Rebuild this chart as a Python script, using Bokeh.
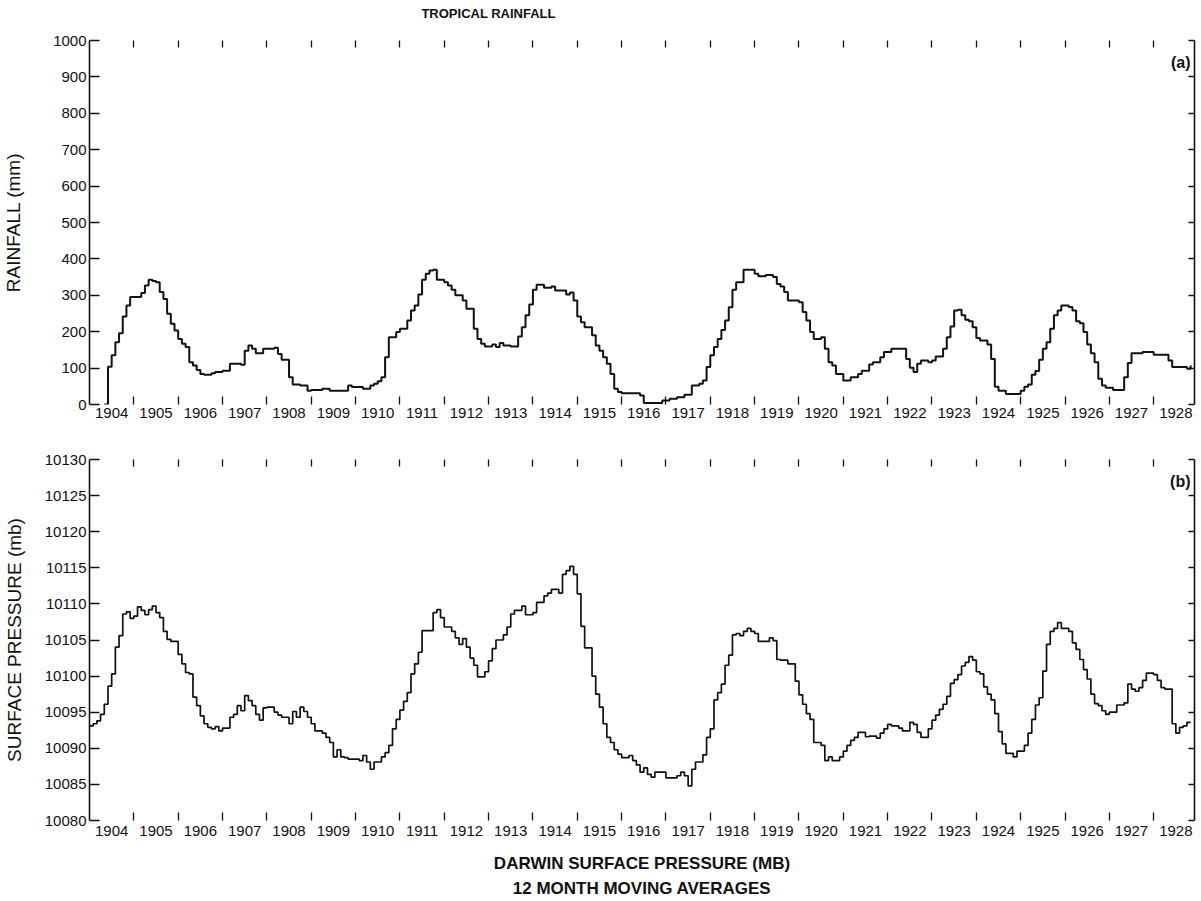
from bokeh.plotting import figure
from bokeh.layouts import column
from bokeh.models import FixedTicker, LinearAxis, Range1d, Label, CustomJSTickFormatter
from bokeh.embed import file_html
from bokeh.resources import INLINE

FIRST_YEAR = 1904
LAST_YEAR = 1928

# Monthly rainfall (mm), 12-month moving average, first value = May 1904 (month index 4)
rain_start_month = 4
rainfall_mm = [
    0, 104, 135, 171, 196, 242, 272, 295,                      # 1904
    295, 295, 306, 327, 343, 339, 336, 309, 290, 249, 222, 203,  # 1905
    180, 167, 158, 116, 107, 95, 84, 82, 82, 86, 89, 89,         # 1906
    93, 93, 112, 112, 112, 109, 148, 162, 153, 141, 141, 153,    # 1907
    153, 153, 156, 139, 123, 123, 75, 55, 55, 52, 52, 38,        # 1908
    40, 40, 40, 43, 43, 38, 38, 38, 38, 38, 52, 48,              # 1909
    48, 48, 43, 43, 52, 57, 64, 75, 130, 185, 185, 199,          # 1910
    208, 208, 231, 258, 272, 302, 343, 359, 368, 370, 343, 343,  # 1911
    336, 327, 315, 300, 300, 286, 263, 263, 208, 180, 167, 159,  # 1912
    159, 165, 158, 169, 162, 162, 159, 159, 187, 212, 245, 275,  # 1913
    315, 329, 329, 321, 321, 324, 313, 313, 313, 302, 308, 286,  # 1914
    242, 226, 212, 212, 190, 162, 148, 130, 112, 84, 43, 34,     # 1915
    31, 31, 31, 31, 31, 25, 4, 4, 4, 4, 4, 11,                   # 1916
    11, 16, 16, 20, 20, 27, 27, 52, 52, 57, 66, 103,             # 1917
    135, 158, 180, 205, 231, 267, 315, 336, 336, 370, 370, 370,  # 1918
    359, 352, 352, 356, 356, 350, 331, 324, 309, 286, 286, 286,  # 1919
    281, 254, 231, 199, 180, 180, 185, 153, 116, 107, 84, 84,    # 1920
    66, 66, 75, 75, 84, 93, 93, 110, 116, 116, 130, 144,         # 1921
    144, 153, 153, 153, 153, 125, 101, 89, 112, 121, 121, 116,   # 1922
    121, 132, 132, 153, 185, 214, 258, 260, 245, 233, 229, 212,  # 1923
    183, 176, 176, 165, 125, 49, 38, 38, 29, 29, 29, 29,         # 1924
    38, 49, 55, 82, 92, 123, 153, 171, 208, 245, 258, 272,       # 1925
    272, 268, 258, 229, 223, 199, 165, 141, 116, 71, 52, 46,     # 1926
    46, 40, 40, 40, 75, 114, 141, 141, 141, 144, 144, 144,       # 1927
    137, 137, 137, 137, 121, 103, 103, 103, 103, 98, 107,        # 1928
]

# Monthly Darwin surface pressure (as labelled on the axis), first value = Jan 1904
pressure_start_month = 0
pressure_mb = [
    10093.1, 10093.4, 10093.8, 10094.7, 10096.1, 10098.6, 10100.3, 10104.0, 10105.6, 10108.6, 10108.9, 10108.0,  # 1904
    10108.3, 10109.6, 10109.1, 10108.5, 10109.2, 10109.7, 10108.8, 10108.1, 10106.2, 10105.1, 10104.8, 10104.8,  # 1905
    10103.0, 10101.7, 10100.5, 10100.3, 10097.1, 10095.9, 10094.5, 10093.4, 10092.9, 10092.7, 10093.0, 10092.4,  # 1906
    10092.8, 10092.8, 10094.3, 10094.7, 10095.9, 10095.2, 10097.3, 10096.6, 10095.9, 10094.7, 10093.9, 10095.6,  # 1907
    10095.7, 10095.7, 10095.0, 10094.6, 10094.3, 10094.3, 10093.4, 10095.1, 10094.3, 10095.7, 10095.1, 10094.3,  # 1908
    10093.4, 10092.4, 10092.4, 10092.1, 10091.5, 10090.8, 10088.8, 10089.8, 10088.8, 10088.7, 10088.5, 10088.5,  # 1909
    10088.5, 10088.3, 10089.0, 10088.1, 10087.1, 10088.1, 10088.1, 10088.8, 10089.4, 10090.4, 10092.7, 10094.0,  # 1910
    10095.3, 10096.5, 10097.7, 10100.3, 10101.7, 10103.3, 10106.3, 10106.3, 10106.3, 10108.8, 10109.2, 10108.1,  # 1911
    10106.8, 10106.8, 10106.2, 10105.3, 10104.4, 10105.2, 10104.0, 10102.5, 10101.5, 10099.9, 10099.9, 10100.6,  # 1912
    10102.1, 10103.8, 10105.0, 10105.0, 10105.7, 10106.8, 10108.6, 10109.1, 10109.1, 10109.7, 10108.5, 10108.5,  # 1913
    10108.8, 10110.2, 10110.2, 10111.1, 10111.5, 10112.0, 10112.0, 10111.5, 10114.1, 10114.6, 10115.2, 10114.1,  # 1914
    10111.4, 10106.9, 10103.9, 10103.9, 10100.0, 10097.5, 10095.7, 10093.4, 10091.5, 10090.8, 10089.8, 10089.2,  # 1915
    10088.7, 10088.7, 10089.0, 10088.3, 10087.7, 10086.7, 10087.3, 10086.4, 10086.0, 10086.7, 10086.7, 10086.7,  # 1916
    10085.9, 10085.9, 10085.9, 10086.2, 10086.7, 10086.2, 10084.8, 10087.1, 10088.1, 10088.1, 10089.1, 10091.5,  # 1917
    10092.7, 10096.7, 10097.7, 10098.9, 10101.5, 10102.9, 10105.7, 10105.9, 10105.6, 10106.2, 10106.6, 10106.2,  # 1918
    10105.9, 10104.8, 10104.8, 10104.8, 10105.3, 10104.9, 10102.3, 10102.2, 10102.2, 10101.7, 10101.7, 10099.3,  # 1919
    10097.4, 10096.1, 10094.8, 10094.0, 10090.8, 10090.8, 10090.4, 10088.3, 10088.8, 10088.3, 10088.3, 10088.8,  # 1920
    10089.6, 10090.4, 10091.1, 10091.5, 10092.2, 10092.2, 10091.6, 10091.7, 10091.7, 10091.4, 10092.1, 10092.7,  # 1921
    10093.3, 10093.1, 10093.1, 10092.8, 10092.4, 10092.4, 10093.6, 10093.3, 10092.2, 10091.5, 10091.5, 10092.7,  # 1922
    10093.9, 10094.6, 10095.4, 10096.1, 10097.2, 10099.0, 10099.5, 10100.2, 10101.4, 10101.9, 10102.7, 10102.2,  # 1923
    10100.6, 10100.3, 10098.5, 10097.5, 10096.7, 10094.8, 10092.3, 10090.6, 10089.3, 10089.3, 10088.8, 10089.6,  # 1924
    10089.6, 10090.4, 10092.1, 10094.0, 10096.0, 10097.0, 10100.7, 10104.4, 10106.2, 10106.6, 10107.4, 10106.6,  # 1925
    10106.6, 10106.2, 10104.6, 10103.7, 10102.3, 10100.9, 10099.6, 10097.5, 10096.2, 10095.9, 10095.2, 10094.7,  # 1926
    10095.0, 10095.0, 10096.0, 10096.0, 10096.3, 10098.9, 10098.2, 10097.9, 10098.4, 10099.4, 10100.4, 10100.4,  # 1927
    10100.2, 10099.4, 10098.4, 10098.2, 10098.2, 10093.4, 10092.1, 10092.9, 10093.1, 10093.6, 10093.6,           # 1928
]

years = list(range(FIRST_YEAR, LAST_YEAR + 1))
year_labels = [str(y) for y in years]
rain_ticks = list(range(0, 1001, 100))
pressure_ticks = list(range(10080, 10131, 5))

X_END = 1928.92
X_MID = (FIRST_YEAR + X_END) / 2.0
FONT = "Liberation Sans"
INK = "#111111"
LEFT, RIGHT = 89, 7


def month_x(start, n):
    return [FIRST_YEAR + (start + i) / 12.0 for i in range(n)]


def blank_formatter():
    return CustomJSTickFormatter(code="return '';")


def text_label(p, x, y, text, size, align="center"):
    p.add_layout(Label(x=x, y=y, text=text, text_align=align,
                       text_baseline="middle", text_font=FONT, text_font_size=size,
                       text_font_style="bold", text_color=INK))


def text_strip(height):
    """A bare strip with the same horizontal frame as the panels, used for titles."""
    s = figure(width=1201, height=height, output_backend="svg", toolbar_location=None,
               x_range=Range1d(FIRST_YEAR, X_END), y_range=Range1d(0, height),
               x_axis_location=None, y_axis_location=None,
               min_border_left=LEFT, min_border_right=RIGHT, min_border_top=0,
               min_border_bottom=0)
    s.outline_line_color = None
    s.grid.visible = False
    s.background_fill_color = "white"
    s.border_fill_color = "white"
    return s


def style(p, yticks, ylabel, label_standoff, tick_label_standoff_bottom):
    p.xgrid.grid_line_color = None
    p.ygrid.grid_line_color = None
    p.outline_line_color = None
    p.background_fill_color = "white"
    p.border_fill_color = "white"

    # left axis
    ya = p.yaxis[0]
    ya.ticker = FixedTicker(ticks=yticks, minor_ticks=[])
    ya.major_tick_in = 10
    ya.major_tick_out = 0
    ya.major_tick_line_width = 1.5
    ya.major_tick_line_color = INK
    ya.axis_line_width = 1.6
    ya.axis_line_color = INK
    ya.major_label_standoff = 3
    ya.major_label_text_font = FONT
    ya.major_label_text_font_size = "15px"
    ya.major_label_text_color = INK
    ya.axis_label = ylabel
    ya.axis_label_text_font = FONT
    ya.axis_label_text_font_style = "normal"
    ya.axis_label_text_font_size = "19px"
    ya.axis_label_text_color = INK
    ya.axis_label_standoff = label_standoff

    # bottom axis: year names centred in each year, ticks at year boundaries
    xa = p.xaxis[0]
    xa.ticker = FixedTicker(ticks=[y + 0.5 for y in years], minor_ticks=years[1:])
    xa.major_label_overrides = {y + 0.5: lab for y, lab in zip(years, year_labels)}
    xa.major_tick_in = 0
    xa.major_tick_out = 0
    xa.minor_tick_in = 8
    xa.minor_tick_out = 0
    xa.minor_tick_line_width = 1.3
    xa.minor_tick_line_color = INK
    xa.axis_line_color = None
    xa.major_label_standoff = tick_label_standoff_bottom
    xa.major_label_text_font = FONT
    xa.major_label_text_font_size = "15px"
    xa.major_label_text_color = INK

    # top axis: ticks only
    top = LinearAxis(ticker=FixedTicker(ticks=years[1:], minor_ticks=[]),
                     formatter=blank_formatter())
    top.major_tick_in = 7
    top.major_tick_out = 0
    top.major_tick_line_width = 1.3
    top.major_tick_line_color = INK
    top.axis_line_color = None
    top.major_label_standoff = 0
    p.add_layout(top, "above")

    # right axis: line with inward ticks
    right = LinearAxis(ticker=FixedTicker(ticks=yticks, minor_ticks=[]),
                       formatter=blank_formatter())
    right.major_tick_in = 6
    right.major_tick_out = 0
    right.major_tick_line_width = 1.3
    right.major_tick_line_color = INK
    right.axis_line_width = 1.6
    right.axis_line_color = INK
    right.major_label_standoff = 0
    p.add_layout(right, "right")


# ---------------- title strip (0..26 px) ----------------
top_strip = text_strip(26)
text_label(top_strip, 1913.0, 13, "TROPICAL RAINFALL", "13px")

# ---------------- top panel: rainfall (26..430 px) ----------------
p1 = figure(width=1201, height=404, output_backend="svg", toolbar_location=None,
            x_range=Range1d(FIRST_YEAR, X_END), y_range=Range1d(0, 1000),
            min_border_left=LEFT, min_border_right=RIGHT, min_border_top=14,
            min_border_bottom=26)
p1.title = None
style(p1, rain_ticks, "RAINFALL (mm)", 26, 3)
p1.step(month_x(rain_start_month, len(rainfall_mm)), rainfall_mm, mode="after",
        line_color=INK, line_width=2)
text_label(p1, 1928.83, 940, "(a)", "16px", align="right")

# ---------------- bottom panel: pressure (430..852 px) ----------------
p2 = figure(width=1201, height=422, output_backend="svg", toolbar_location=None,
            x_range=Range1d(FIRST_YEAR, X_END), y_range=Range1d(10080, 10130),
            min_border_left=LEFT, min_border_right=RIGHT, min_border_top=29,
            min_border_bottom=32)
p2.title = None
style(p2, pressure_ticks, "SURFACE PRESSURE (mb)", 17, 5)
p2.step(month_x(pressure_start_month, len(pressure_mb)), pressure_mb, mode="after",
        line_color=INK, line_width=1.7)
text_label(p2, 1928.83, 10127, "(b)", "16px", align="right")

# ---------------- caption strip (852..901 px) ----------------
bottom_strip = text_strip(49)
text_label(bottom_strip, X_MID, 38, "DARWIN SURFACE PRESSURE (MB)", "17px")
text_label(bottom_strip, X_MID, 13, "12 MONTH MOVING AVERAGES", "17px")

layout = column(top_strip, p1, p2, bottom_strip, spacing=0)
open("out.html", "w").write(file_html(layout, INLINE))
